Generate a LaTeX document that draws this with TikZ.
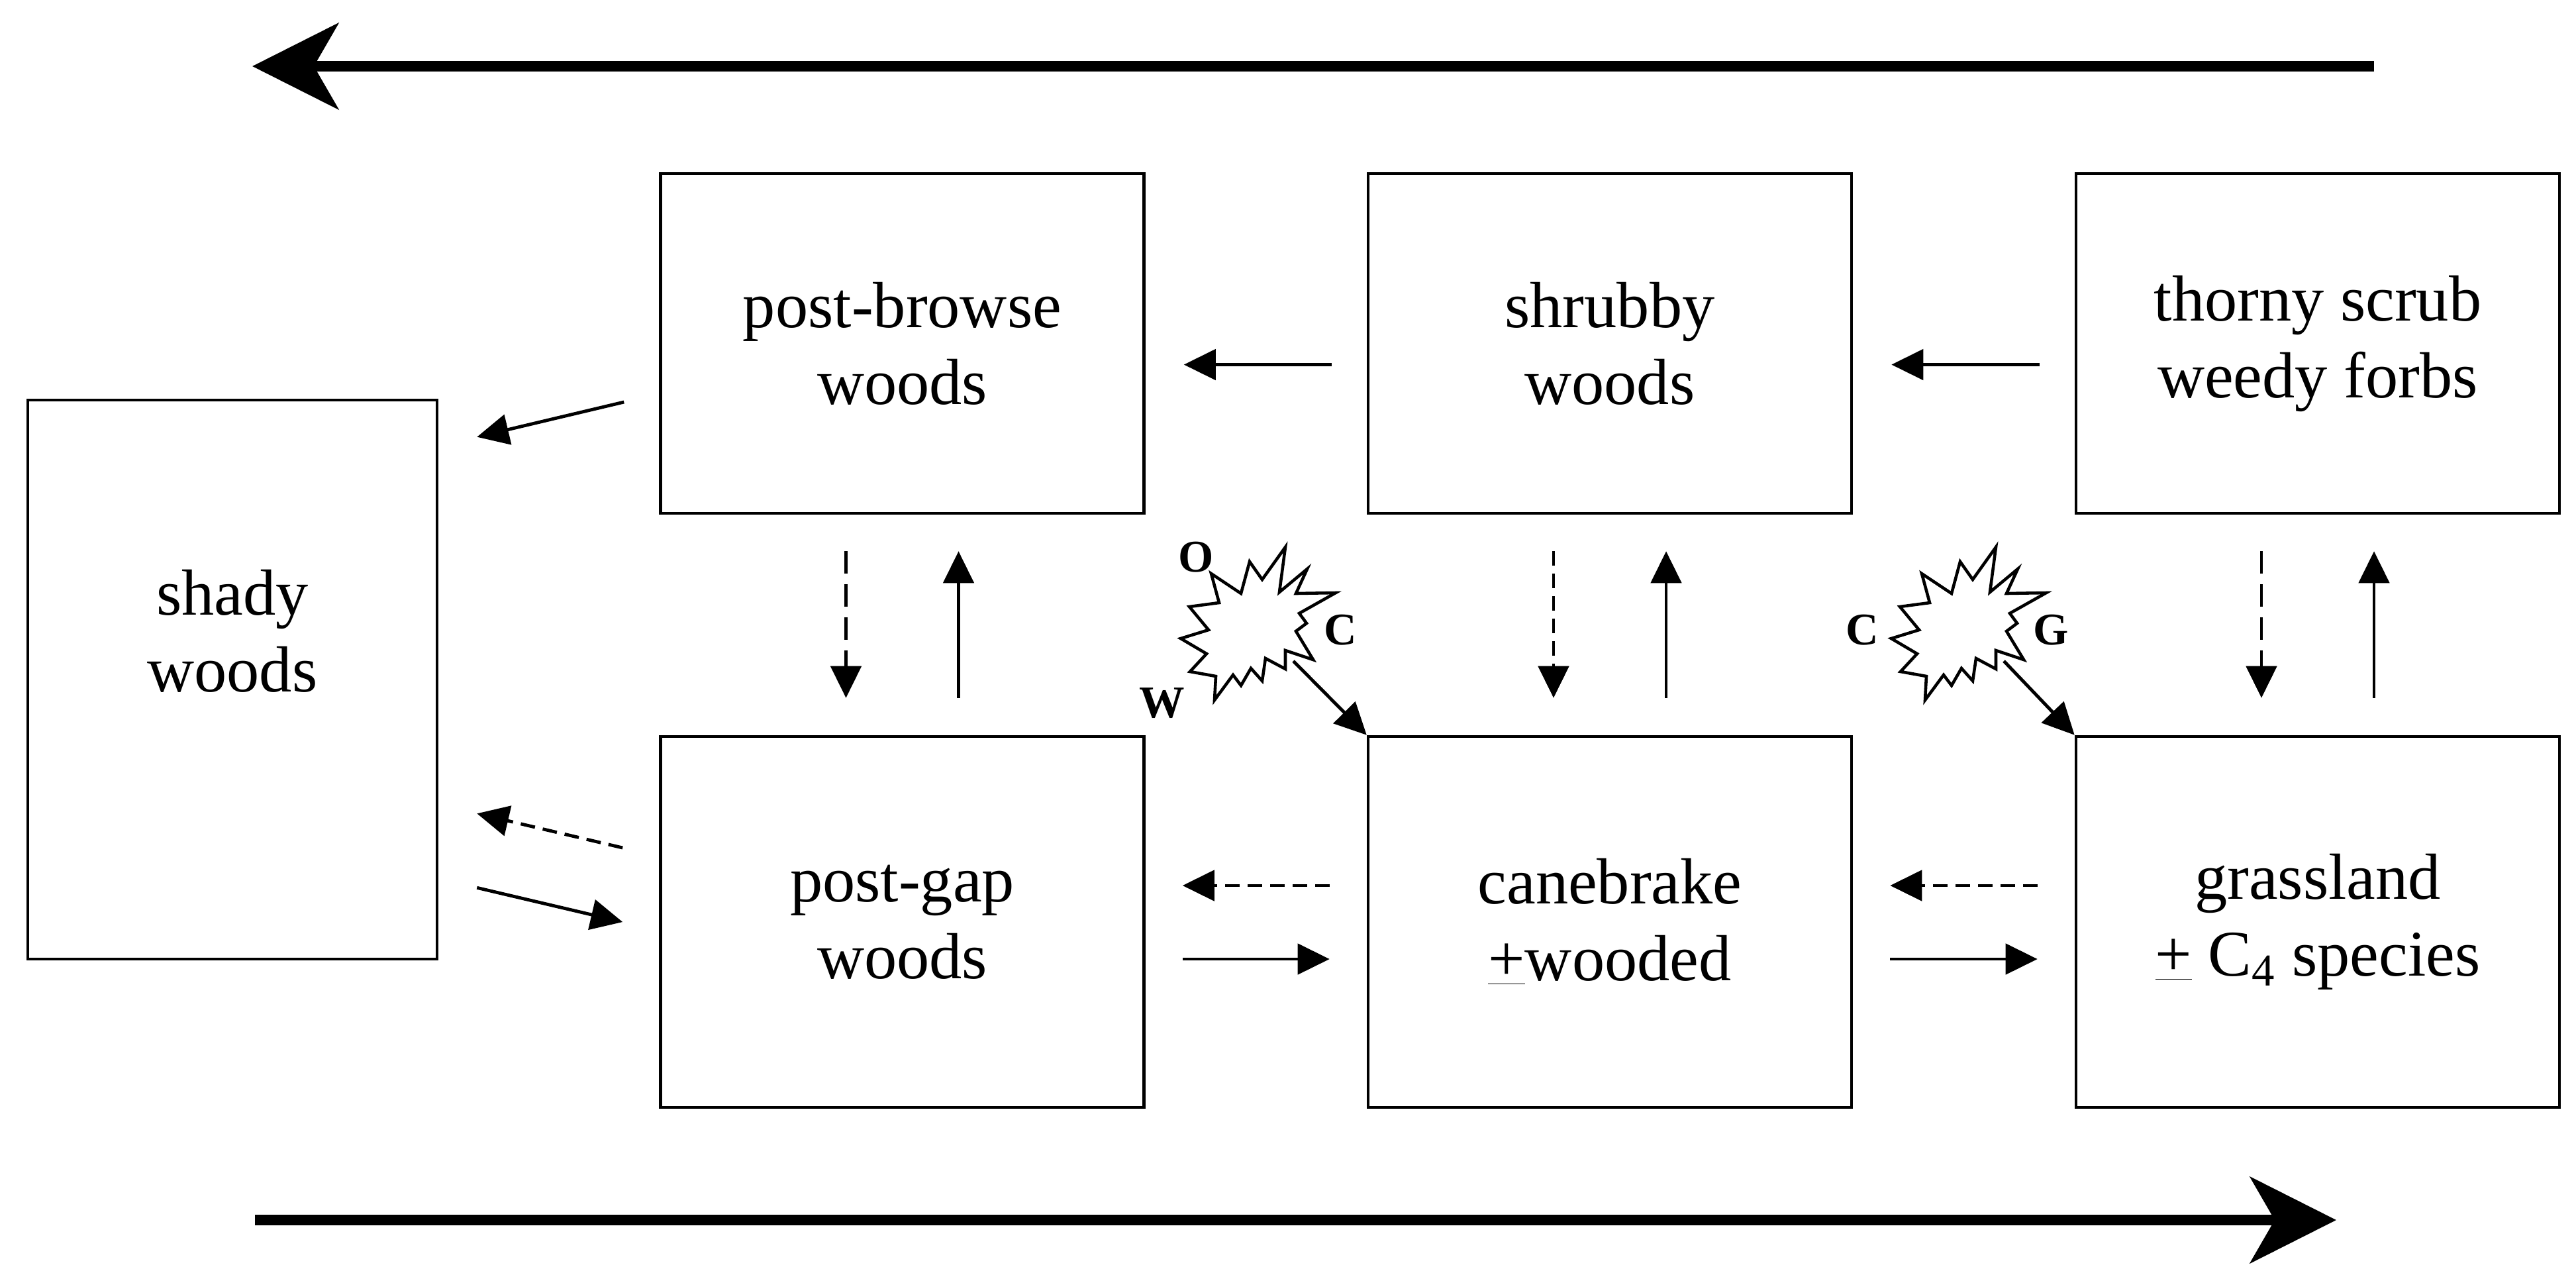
\documentclass[tikz,border=0pt]{standalone}
\usepackage{fontspec}
\setmainfont{Liberation Serif}
\usetikzlibrary{arrows.meta}
\tikzset{
stagetext/.style={align=center, font=\fontsize{28}{33}\selectfont},
stage/.style={draw, line width=1.3pt, minimum width=7.3cm, inner sep=0pt, stagetext},
flow/.style={line width=1.4pt, -{Triangle[length=0.48cm,width=0.46cm]}},
back/.style={flow, dash pattern=on 0.22cm off 0.12cm},
longback/.style={flow, dash pattern=on 0.34cm off 0.16cm},
trend/.style={line width=4.8pt, -{Stealth[length=1.3cm,width=1.3cm,inset=0.37cm]}},
tag/.style={font=\fontsize{19.5}{22}\selectfont\bfseries, inner sep=0pt},
burst/.pic={
  \draw[line width=1.3pt] (-0.51,-0.84) -- (-0.06,-0.54) -- (0.07,-1.02) -- (0.26,-0.75)
    -- (0.61,-1.24) -- (0.52,-0.56) -- (0.94,-0.91) -- (0.77,-0.54) -- (1.37,-0.55)
    -- (0.82,-0.24) -- (0.93,-0.09) -- (0.77,0.03) -- (1.03,0.46) -- (0.61,0.32)
    -- (0.61,0.60) -- (0.31,0.44) -- (0.26,0.78) -- (0.09,0.59) -- (-0.06,0.85)
    -- (-0.18,0.69) -- (-0.46,1.07) -- (-0.44,0.71) -- (-0.83,0.64) -- (-0.58,0.37)
    -- (-0.97,0.14) -- (-0.55,0.01) -- (-0.84,-0.34) -- (-0.39,-0.40) -- cycle;
  \coordinate (-tail) at (0.73,0.48);
  }
}
\begin{document}
\begin{tikzpicture}[x=1cm, y=-1cm]
\useasboundingbox (0,0) rectangle (38.9,19.21);
% stages
\node[stage, minimum height=5.13cm] (browse) at (13.625,5.185) {post-browse\\woods};
\node[stage, minimum height=5.13cm] (shrubby) at (24.31,5.185) {shrubby\\woods};
\node[stage, minimum height=5.13cm] (thorny) at (35.0,5.185) {thorny scrub\\weedy forbs};
\node[stage, minimum height=5.6cm] (gap) at (13.625,13.92) {post-gap\\woods};
\node[stage, minimum height=5.6cm] (cane) at (24.31,13.92) {canebrake\\\underline{+}wooded};
\node[stage, minimum height=5.6cm] (grass) at (35.0,13.92) {grassland\\\underline{+} C\textsubscript{4} species};
\node[stage, minimum width=6.18cm, minimum height=8.44cm,
  label={[stagetext, yshift=7.3mm]center:shady\\woods}] (shady) at (3.51,10.26) {};

% top row
\draw[flow] ([xshift=-0.53cm,yshift=-0.32cm]shrubby.west) -- ([xshift=0.58cm,yshift=-0.32cm]browse.east);
\draw[flow] ([xshift=-0.53cm,yshift=-0.32cm]thorny.west) -- ([xshift=0.58cm,yshift=-0.32cm]shrubby.east);

% bottom row
\draw[back] ([xshift=-0.56cm,yshift=0.55cm]cane.west) -- ([xshift=0.56cm,yshift=0.55cm]gap.east);
\draw[flow] ([xshift=0.56cm,yshift=-0.56cm]gap.east) -- ([xshift=-0.56cm,yshift=-0.56cm]cane.west);
\draw[back] ([xshift=-0.56cm,yshift=0.55cm]grass.west) -- ([xshift=0.56cm,yshift=0.55cm]cane.east);
\draw[flow] ([xshift=0.56cm,yshift=-0.56cm]cane.east) -- ([xshift=-0.56cm,yshift=-0.56cm]grass.west);

% between rows
\draw[longback] ([xshift=-0.85cm,yshift=-0.55cm]browse.south) -- ([xshift=-0.85cm,yshift=0.56cm]gap.north);
\draw[flow] ([xshift=0.85cm,yshift=0.56cm]gap.north) -- ([xshift=0.85cm,yshift=-0.55cm]browse.south);
\draw[back] ([xshift=-0.85cm,yshift=-0.55cm]shrubby.south) -- ([xshift=-0.85cm,yshift=0.56cm]cane.north);
\draw[flow] ([xshift=0.85cm,yshift=0.56cm]cane.north) -- ([xshift=0.85cm,yshift=-0.55cm]shrubby.south);
\draw[longback] ([xshift=-0.85cm,yshift=-0.55cm]thorny.south) -- ([xshift=-0.85cm,yshift=0.56cm]grass.north);
\draw[flow] ([xshift=0.85cm,yshift=0.56cm]grass.north) -- ([xshift=0.85cm,yshift=-0.55cm]thorny.south);

% to and from shady woods
\draw[flow] ([xshift=-0.53cm,yshift=-0.885cm]browse.west) -- ([xshift=0.58cm,yshift=-0.58cm]shady.north east);
\draw[back] ([xshift=-0.55cm,yshift=1.12cm]gap.west) -- ([xshift=0.58cm,yshift=2.22cm]shady.south east);
\draw[flow] ([xshift=0.58cm,yshift=1.10cm]shady.south east) -- ([xshift=-0.55cm]gap.west);

% disturbances
\pic (burstL) at (18.80,9.50) {burst};
\pic (burstR) at (29.53,9.50) {burst};
\node[tag] (o) at (18.06,8.41) {O};
\node[tag] (c1) at (20.24,9.51) {C};
\node[tag] (w) at (17.55,10.62) {W};
\node[tag] (c2) at (28.12,9.51) {C};
\node[tag] (g) at (30.97,9.51) {G};
\draw[flow] (burstL-tail) -- (cane.north west);
\draw[flow] (burstR-tail) -- (grass.north west);

% long-term trends
\coordinate (topR) at (35.85,1.0);
\coordinate (topL) at (3.81,1.0);
\coordinate (botL) at (3.85,18.42);
\coordinate (botR) at (35.28,18.42);
\draw[trend] (topR) -- (topL);
\draw[trend] (botL) -- (botR);
\end{tikzpicture}
\end{document}
